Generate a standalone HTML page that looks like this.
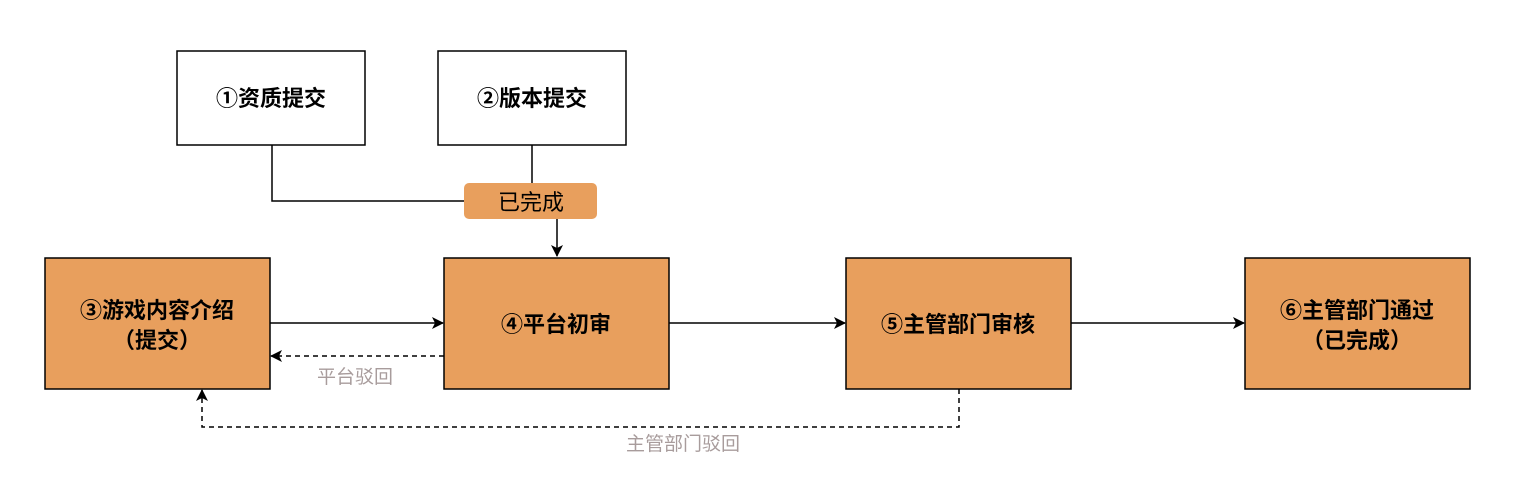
<!DOCTYPE html>
<html><head><meta charset="utf-8"><style>
body{margin:0;background:#fff;}
svg text{font-family:"Liberation Sans","Noto Sans CJK SC",sans-serif;}
</style></head><body>
<svg width="1521" height="493" viewBox="0 0 1521 493" xmlns="http://www.w3.org/2000/svg">
<defs>
<marker id="a" markerWidth="12" markerHeight="12" refX="11" refY="6" orient="auto" markerUnits="userSpaceOnUse">
<path d="M0,0 L12,6 L0,12 L3,6 Z" fill="#000"/></marker>
</defs>
<g stroke="#000" stroke-width="1.5">
<rect x="177" y="51" width="188" height="94" fill="#fff"/>
<rect x="438" y="51" width="188" height="94" fill="#fff"/>
<rect x="45" y="258" width="225" height="131" fill="#E89F5D"/>
<rect x="444" y="258" width="225" height="131" fill="#E89F5D"/>
<rect x="846" y="258" width="225" height="131" fill="#E89F5D"/>
<rect x="1245" y="258" width="225" height="131" fill="#E89F5D"/>
<polyline points="272,145 272,201 464,201" fill="none"/>
<line x1="532" y1="145" x2="532" y2="183"/>
<line x1="557" y1="219" x2="557" y2="256" marker-end="url(#a)"/>
<line x1="270" y1="323" x2="443" y2="323" marker-end="url(#a)"/>
<line x1="669" y1="323" x2="845" y2="323" marker-end="url(#a)"/>
<line x1="1071" y1="323" x2="1244" y2="323" marker-end="url(#a)"/>
<line x1="444" y1="356" x2="271" y2="356" stroke-dasharray="5,4" marker-end="url(#a)"/>
<polyline points="959,389 959,427 202,427 202,390" fill="none" stroke-dasharray="5,4" marker-end="url(#a)"/>
</g>
<rect x="464" y="183" width="133" height="36" rx="5" fill="#E89F5D"/>
<g font-size="22" font-weight="bold" text-anchor="middle" fill="#000">
<text x="271" y="106">①资质提交</text>
<text x="532" y="106">②版本提交</text>
<text x="157" y="318">③游戏内容介绍</text>
<text x="157" y="348">（提交）</text>
<text x="556" y="332">④平台初审</text>
<text x="958" y="332">⑤主管部门审核</text>
<text x="1357" y="318">⑥主管部门通过</text>
<text x="1357" y="348">（已完成）</text>
</g>
<text x="531" y="210" font-size="22" text-anchor="middle" fill="#000">已完成</text>
<text x="355" y="383" font-size="19" text-anchor="middle" fill="#A89C9C">平台驳回</text>
<text x="683" y="450" font-size="19" text-anchor="middle" fill="#A89C9C">主管部门驳回</text>
</svg>
</body></html>
